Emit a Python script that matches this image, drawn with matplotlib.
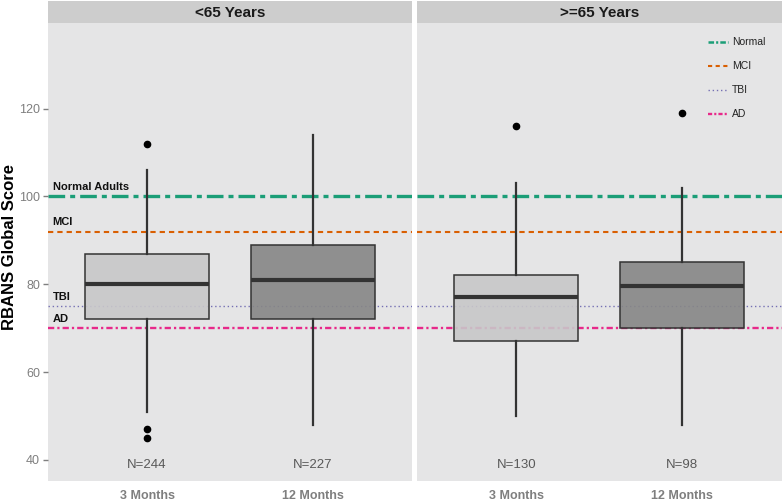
import matplotlib
matplotlib.use("Agg")
import matplotlib.pyplot as plt
from matplotlib.lines import Line2D

plt.rcParams['font.family'] = ['Liberation Sans', 'DejaVu Sans']
plt.rcParams['lines.scale_dashes'] = False

# ---- data ----
panels = ["<65 Years", ">=65 Years"]
timepoints = ["3 Months", "12 Months"]
# per panel, per timepoint: whisker low, Q1, median, Q3, whisker high
whislo = [[51, 48], [50, 48]]
q1 = [[72, 72], [67, 70]]
med = [[80, 81], [77, 79.5]]
q3 = [[87, 89], [82, 85]]
whishi = [[106, 114], [103, 102]]
outliers = [[[112, 47, 45], []], [[116], [119]]]
counts = [["N=244", "N=227"], ["N=130", "N=98"]]

ref_names = ["Normal", "MCI", "TBI", "AD"]
ref_labels = ["Normal Adults", "MCI", "TBI", "AD"]
ref_values = [100, 92, 75, 70]
ref_colors = ["#1B9E77", "#D95F02", "#7570B3", "#E7298A"]
ref_styles = [(0, (12, 3.6, 3.6, 3.6)), (0, (3.8, 2.9)), (0, (1.0, 2.0)), (0, (4.5, 2.2, 1.6, 2.2))]
ref_widths = [2.4, 1.5, 1.0, 1.7]

box_fills = ["#C8C7C9", "#868686"]
yticks = [40, 60, 80, 100, 120]

W, H = 783, 503
fig = plt.figure(figsize=(W / 100, H / 100), dpi=100)
fig.patch.set_facecolor("white")

panel_x = [(47.7, 412.0), (416.7, 781.7)]
ptop, pbot = 23.0, 481.0
strip_top = 1.0

axes = []
for pi, (x0, x1) in enumerate(panel_x):
    ax = fig.add_axes([x0 / W, 1 - pbot / H, (x1 - x0) / W, (pbot - ptop) / H])
    ax.set_facecolor("#E5E5E6")
    for s in ax.spines.values():
        s.set_visible(False)
    ax.set_xlim(0.4, 2.6)
    ax.set_ylim(35.2, 139.5)

    # reference lines
    for v, c, ls, lw in zip(ref_values, ref_colors, ref_styles, ref_widths):
        ax.axhline(v, color=c, linestyle=ls, linewidth=lw, zorder=1)

    # boxes
    stats = []
    for ti in range(2):
        stats.append(dict(whislo=whislo[pi][ti], q1=q1[pi][ti], med=med[pi][ti],
                          q3=q3[pi][ti], whishi=whishi[pi][ti], fliers=outliers[pi][ti]))
    bp = ax.bxp(stats, positions=[1, 2], widths=0.75, patch_artist=True, showcaps=False,
                manage_ticks=False,
                boxprops=dict(edgecolor="#333333", linewidth=1.1),
                whiskerprops=dict(color="#333333", linewidth=1.6),
                medianprops=dict(color="#333333", linewidth=3.0),
                flierprops=dict(marker="o", markerfacecolor="black", markeredgecolor="black",
                                markersize=4.5))
    for patch, fc in zip(bp["boxes"], box_fills):
        r, g, b = matplotlib.colors.to_rgb(fc)
        patch.set_facecolor((r, g, b, 0.9))
        patch.set_zorder(2)
    for ln in bp["whiskers"] + bp["medians"] + bp["fliers"]:
        ln.set_zorder(3)

    # counts
    for ti in range(2):
        ax.text(ti + 1, 38.9, counts[pi][ti], ha="center", va="center",
                fontsize=9.5, color="#595959")

    ax.set_xticks([1, 2])
    ax.set_xticklabels(timepoints, fontsize=9, fontweight="bold", color="#7F7F7F")
    ax.tick_params(axis="x", length=0, pad=6.5)
    if pi == 0:
        ax.set_yticks(yticks)
        ax.set_yticklabels([str(t) for t in yticks], fontsize=9, color="#7F7F7F")
        ax.tick_params(axis="y", length=3.5, width=1, color="#7F7F7F", pad=2)
        for lab, v in zip(ref_labels, ref_values):
            ax.text(0.43, v + 2.1, lab, ha="left", va="center", fontsize=8,
                    fontweight="bold", color="#111111")
    else:
        ax.set_yticks([])

    # strip
    sax = fig.add_axes([x0 / W, 1 - ptop / H, (x1 - x0) / W, (ptop - strip_top) / H])
    sax.set_facecolor("#CDCDCD")
    for s in sax.spines.values():
        s.set_visible(False)
    sax.set_xticks([])
    sax.set_yticks([])
    sax.text(0.5, 0.45, panels[pi], ha="center", va="center", fontsize=11,
             fontweight="bold", color="#1A1A1A", transform=sax.transAxes)
    axes.append(ax)

# y axis title
fig.text(10 / W, 1 - 247 / H, "RBANS Global Score", rotation=90, ha="center", va="center",
         fontsize=12, fontweight="bold", color="black")

# legend
handles = [Line2D([0], [0], color=c, linestyle=ls, linewidth=min(lw, 1.8))
           for c, ls, lw in zip(ref_colors,
                                [(0, (4, 1.5, 1.5, 1.5)), (0, (3, 2.5)), (0, (1, 2)), (0, (3, 1.5, 1.5, 1.5))],
                                ref_widths)]
leg = axes[1].legend(handles, ref_names, loc="upper right", bbox_to_anchor=(0.975, 0.985),
                     frameon=False, fontsize=7.5, handlelength=1.9, handletextpad=0.4,
                     labelspacing=1.35, borderaxespad=0.3)
for t in leg.get_texts():
    t.set_color("#222222")

fig.savefig("out.png", dpi=100, facecolor="white")
